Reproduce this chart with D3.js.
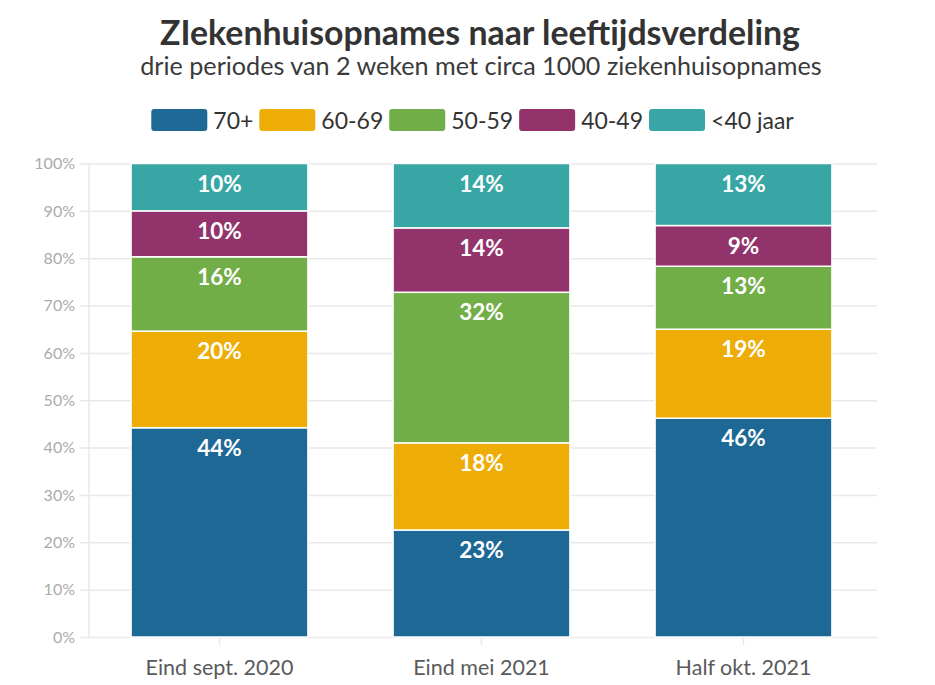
<!DOCTYPE html>
<html>
<head>
<meta charset="utf-8">
<script src="https://cdn.jsdelivr.net/npm/d3@7"></script>
<style>
  html, body { margin: 0; padding: 0; background: #fff; }
  svg { display: block; font-family: "Source Sans Pro", Lato, "Noto Sans", sans-serif; }
</style>
</head>
<body>
<svg id="chart" width="935" height="685"></svg>
<script>
// ---- data ----
const categories = ["Eind sept. 2020", "Eind mei 2021", "Half okt. 2021"];
const groups = ["70+", "60-69", "50-59", "40-49", "<40 jaar"];
const s70plus  = [44.2, 22.6, 46.2];
const s60_69   = [20.4, 18.4, 18.8];
const s50_59   = [15.7, 31.8, 13.3];
const s40_49   = [9.7, 13.6, 8.6];
const sUnder40 = [10.0, 13.6, 13.1];
const yTicks = [0, 10, 20, 30, 40, 50, 60, 70, 80, 90, 100];
const colors = ["#1e6896", "#eeac06", "#72ae48", "#92336b", "#38a6a5"];

const titleText = "ZIekenhuisopnames naar leeftijdsverdeling";
const subtitleText = "drie periodes van 2 weken met circa 1000 ziekenhuisopnames";

const seriesValues = [s70plus, s60_69, s50_59, s40_49, sUnder40];
const table = categories.map((c, i) => {
  const row = { cat: c };
  groups.forEach((g, j) => row[g] = seriesValues[j][i]);
  return row;
});

const svg = d3.select("#chart");

// ---- scales ----
const x = d3.scaleBand().domain(categories).range([88.5, 874.5])
  .paddingInner(0.325).paddingOuter(0.1625);
const y = d3.scaleLinear().domain([0, 100]).range([637, 163.5]);
const color = d3.scaleOrdinal().domain(groups).range(colors);

// ---- title ----
function fit(sel, target) {
  const w = sel.node().getComputedTextLength();
  const fs = parseFloat(sel.attr("font-size"));
  sel.attr("font-size", fs * target / w);
}
const title = svg.append("text").attr("x", 480).attr("y", 45)
  .attr("text-anchor", "middle").attr("font-size", 28).attr("font-weight", 700)
  .attr("fill", "#333").text(titleText);
fit(title, 640);
const sub = svg.append("text").attr("x", 481).attr("y", 75)
  .attr("text-anchor", "middle").attr("font-size", 23)
  .attr("fill", "#3a3a3a").text(subtitleText);
fit(sub, 682);

// ---- legend ----
const legend = svg.append("g");
let lx = 0;
groups.forEach((g, i) => {
  const it = legend.append("g").attr("transform", `translate(${lx},0)`);
  it.append("rect").attr("x", 0).attr("y", 109).attr("width", 56).attr("height", 22)
    .attr("rx", 3).attr("fill", color(g));
  const t = it.append("text").attr("x", 62).attr("y", 128.5)
    .attr("font-size", 23).attr("fill", "#333").text(g);
  lx += 62 + t.node().getComputedTextLength() + 6;
});
const lw = lx - 6;
legend.attr("transform", `translate(${472.5 - lw / 2},0)`);

// ---- grid & y axis ----
const yAxis = d3.axisLeft(y).tickValues(yTicks).tickSize(9).tickFormat(d => d + "%");
const gy = svg.append("g").attr("transform", "translate(89,0)").call(yAxis);
gy.select(".domain").remove();
gy.selectAll(".tick line").attr("stroke", "#e9e9e9").attr("stroke-width", 1.5)
  .attr("x1", -9).attr("x2", 877 - 89);
gy.selectAll(".tick text").attr("x", -14).attr("dy", "0.33em")
  .attr("font-size", 16).attr("fill", "#ababab")
  .attr("font-family", "\"Source Sans Pro\", Lato, sans-serif");
svg.append("line").attr("x1", 89).attr("x2", 89).attr("y1", y(100)).attr("y2", y(0))
  .attr("stroke", "#e9e9e9").attr("stroke-width", 1.5);

// ---- x axis ----
const xAxis = d3.axisBottom(x).tickSize(8).tickPadding(10);
const gx = svg.append("g").attr("transform", `translate(0,${y(0)})`).call(xAxis);
gx.select(".domain").remove();
gx.selectAll(".tick line").attr("stroke", "#e9e9e9").attr("stroke-width", 1.5);
gx.selectAll(".tick text").attr("font-size", 21.5).attr("fill", "#5a5a5a")
  .attr("font-family", "\"Source Sans Pro\", Lato, sans-serif")
  .attr("dy", "0.95em");

// ---- bars ----
const stacked = d3.stack().keys(groups)(table);
const layers = svg.append("g").selectAll("g").data(stacked).join("g")
  .attr("fill", d => color(d.key));
layers.selectAll("rect").data(d => d).join("rect")
  .attr("x", d => x(d.data.cat))
  .attr("width", x.bandwidth())
  .attr("y", d => y(d[1]))
  .attr("height", d => y(d[0]) - y(d[1]))
  .attr("stroke", "#fff").attr("stroke-width", 1.5);

// ---- value labels ----
const labelG = svg.append("g");
stacked.forEach(layer => {
  layer.forEach(d => {
    labelG.append("text")
      .attr("x", x(d.data.cat) + x.bandwidth() / 2)
      .attr("y", y(d[1]) + 28)
      .attr("text-anchor", "middle")
      .attr("font-size", 22.5).attr("font-weight", 700).attr("fill", "#fff")
      .text(Math.round(d[1] - d[0]) + "%");
  });
});
</script>
</body>
</html>
